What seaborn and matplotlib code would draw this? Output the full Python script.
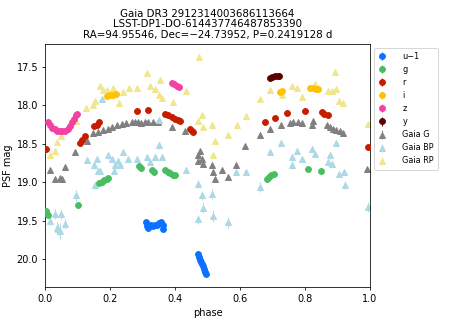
import matplotlib
matplotlib.use("Agg")
import matplotlib.pyplot as plt
import seaborn as sns

# LSST DP1 photometry (phase, mag); u is shifted by -1 mag
u_phase = [0.311, 0.314, 0.318, 0.326, 0.333, 0.340, 0.346, 0.352, 0.357, 0.362, 0.364,
           0.472, 0.474, 0.477, 0.479, 0.482, 0.485, 0.489, 0.493, 0.497]
u_mag = [19.52, 19.57, 19.59, 19.55, 19.57, 19.55, 19.56, 19.53, 19.52, 19.55, 19.60,
         19.93, 19.97, 20.01, 20.04, 20.06, 20.09, 20.12, 20.16, 20.19]

g_phase = [0.003, 0.010, 0.102, 0.167, 0.175, 0.183, 0.190, 0.195, 0.290, 0.295, 0.330,
           0.336, 0.370, 0.378, 0.386, 0.394, 0.400, 0.683, 0.690, 0.697, 0.704, 0.810, 0.848]
g_mag = [19.37, 19.42, 19.30, 19.01, 18.99, 18.97, 18.95, 18.94, 18.79, 18.81, 18.84,
         18.87, 18.84, 18.86, 18.88, 18.90, 18.91, 18.95, 18.93, 18.91, 18.89, 18.82, 18.85]

r_phase = [0.002, 0.108, 0.115, 0.122, 0.152, 0.160, 0.167, 0.282, 0.318, 0.370, 0.380,
           0.390, 0.400, 0.410, 0.415, 0.446, 0.452, 0.456, 0.677, 0.708, 0.744, 0.800,
           0.851, 0.860, 0.870, 0.995]
r_mag = [18.57, 18.49, 18.45, 18.40, 18.27, 18.25, 18.22, 18.07, 18.065, 18.11, 18.13,
         18.15, 18.17, 18.19, 18.20, 18.30, 18.33, 18.35, 18.22, 18.16, 18.10, 18.07,
         18.09, 18.11, 18.13, 18.54]

i_phase = [0.190, 0.200, 0.210, 0.218, 0.722, 0.728, 0.815, 0.825, 0.835, 0.840]
i_mag = [17.88, 17.87, 17.86, 17.85, 17.83, 17.81, 17.77, 17.77, 17.78, 17.79]

z_phase = [0.008, 0.015, 0.022, 0.030, 0.038, 0.046, 0.054, 0.062, 0.070, 0.077, 0.084,
           0.090, 0.096, 0.100, 0.390, 0.398, 0.406, 0.414]
z_mag = [18.21, 18.25, 18.29, 18.31, 18.33, 18.33, 18.33, 18.33, 18.31, 18.27, 18.22,
         18.17, 18.13, 18.11, 17.71, 17.72, 17.74, 17.76]

y_phase = [0.692, 0.700, 0.708, 0.716, 0.721]
y_mag = [17.64, 17.63, 17.62, 17.61, 17.61]

# Gaia epoch photometry
G_phase = [0.015, 0.031, 0.046, 0.054, 0.062, 0.092, 0.128, 0.149, 0.164, 0.179, 0.195,
           0.205, 0.221, 0.236, 0.251, 0.267, 0.277, 0.287, 0.297, 0.308, 0.318, 0.333,
           0.349, 0.390, 0.431, 0.472, 0.472, 0.477, 0.482, 0.487, 0.513, 0.518, 0.523,
           0.544, 0.564, 0.588, 0.615, 0.662, 0.692, 0.725, 0.754, 0.764, 0.779, 0.790,
           0.821, 0.824, 0.867, 0.877, 0.887, 0.897, 0.908, 0.918, 0.992]
G_mag = [18.84, 18.96, 18.94, 18.96, 18.80, 18.61, 18.46, 18.36, 18.35, 18.32, 18.31,
         18.28, 18.26, 18.24, 18.23, 18.22, 18.21, 18.22, 18.23, 18.22, 18.22, 18.22,
         18.22, 18.28, 18.33, 18.65, 18.72, 18.59, 18.70, 18.76, 18.77, 18.87, 18.96,
         18.84, 18.93, 18.78, 18.53, 18.38, 18.30, 18.25, 18.23, 18.22, 18.21, 18.23,
         18.26, 18.20, 18.25, 18.28, 18.30, 18.32, 18.33, 18.36, 18.83]

BP_phase = [0.015, 0.031, 0.036, 0.041, 0.046, 0.051, 0.062, 0.095, 0.128, 0.150, 0.154,
            0.159, 0.164, 0.171, 0.177, 0.195, 0.205, 0.212, 0.215, 0.226, 0.231, 0.241,
            0.256, 0.282, 0.313, 0.323, 0.338, 0.352, 0.352, 0.359, 0.434, 0.472, 0.472,
            0.482, 0.487, 0.513, 0.518, 0.564, 0.588, 0.618, 0.663, 0.692, 0.725, 0.759,
            0.759, 0.774, 0.790, 0.821, 0.831, 0.872, 0.877, 0.882, 0.897, 0.904, 0.920,
            0.923, 0.995]
BP_mag = [19.50, 19.41, 19.59, 19.61, 19.63, 19.41, 19.54, 19.17, 18.71, 18.78, 19.04,
          18.70, 18.85, 18.85, 17.92, 18.65, 18.70, 18.85, 18.78, 18.72, 18.77, 18.61,
          18.70, 18.70, 18.67, 18.74, 18.67, 18.52, 18.19, 18.67, 18.84, 19.02, 19.48,
          19.17, 19.33, 19.15, 19.44, 19.52, 18.87, 18.87, 19.06, 18.61, 18.49, 18.67,
          18.77, 18.59, 18.70, 18.57, 18.63, 18.74, 18.65, 18.76, 18.49, 18.89, 18.87,
          19.03, 19.32]
BP_err = [0.06, 0.06, 0.08, 0.07, 0.10, 0.06, 0.07, 0.07, 0.04, 0.04, 0.05,
          0.04, 0.04, 0.04, 0.03, 0.04, 0.04, 0.04, 0.04, 0.04, 0.04, 0.04,
          0.04, 0.04, 0.04, 0.04, 0.04, 0.04, 0.03, 0.04, 0.04, 0.05, 0.06,
          0.06, 0.07, 0.06, 0.08, 0.07, 0.04, 0.04, 0.06, 0.04, 0.04, 0.04,
          0.05, 0.04, 0.04, 0.04, 0.04, 0.05, 0.04, 0.04, 0.04, 0.04, 0.04,
          0.05, 0.06]

RP_phase = [0.015, 0.031, 0.036, 0.051, 0.097, 0.126, 0.149, 0.154, 0.169, 0.180, 0.190,
            0.210, 0.229, 0.241, 0.259, 0.284, 0.313, 0.323, 0.338, 0.352, 0.354, 0.359,
            0.393, 0.434, 0.472, 0.474, 0.482, 0.487, 0.513, 0.518, 0.523, 0.564, 0.590,
            0.618, 0.662, 0.692, 0.728, 0.759, 0.776, 0.790, 0.831, 0.872, 0.882, 0.892,
            0.895, 0.905, 0.918, 0.995]
RP_mag = [18.65, 18.59, 18.48, 18.40, 18.20, 18.03, 18.00, 17.94, 17.74, 17.80, 17.80,
          17.77, 17.97, 17.83, 17.77, 17.77, 17.58, 17.74, 17.78, 17.87, 17.67, 17.90,
          17.96, 17.81, 18.20, 17.37, 18.12, 18.28, 18.26, 18.65, 18.46, 18.39, 18.25,
          18.14, 17.91, 17.80, 17.86, 17.75, 17.77, 17.89, 17.72, 17.81, 17.81, 17.57,
          17.78, 17.94, 17.97, 18.24]

lsst_bands = [("u\u22121", u_phase, u_mag, "#0c71ff"),
              ("g", g_phase, g_mag, "#49be61"),
              ("r", r_phase, r_mag, "#c61c00"),
              ("i", i_phase, i_mag, "#ffc200"),
              ("z", z_phase, z_mag, "#f341a2"),
              ("y", y_phase, y_mag, "#5d0000")]
gaia_bands = [("Gaia G", G_phase, G_mag, [0.01] * len(G_mag), "gray"),
              ("Gaia BP", BP_phase, BP_mag, BP_err, "lightblue"),
              ("Gaia RP", RP_phase, RP_mag, [0.015] * len(RP_mag), "khaki")]

sns.set_style("ticks")
plt.rcParams["font.family"] = ["DejaVu Sans"]
plt.rcParams["axes.edgecolor"] = "black"
plt.rcParams["text.color"] = "black"
plt.rcParams["xtick.color"] = "black"
plt.rcParams["ytick.color"] = "black"
plt.rcParams["axes.labelcolor"] = "black"

fig = plt.figure(figsize=(449 / 70, 321 / 70), dpi=70)
ax = fig.add_axes([0.1, 0.106, 0.724, 0.757])

for name, ph, mag, col in lsst_bands:
    ax.errorbar(ph, mag, yerr=[0.01] * len(mag), fmt="o", color=col, ms=6,
                elinewidth=1, label=name, zorder=3)
for name, ph, mag, err, col in gaia_bands:
    ax.errorbar(ph, mag, yerr=err, fmt="^", color=col, ms=6.5,
                elinewidth=1, label=name, zorder=2)

ax.set_xlim(0, 1)
ax.set_ylim(20.36, 17.2)
ax.set_xlabel("phase")
ax.set_ylabel("PSF mag")
ax.set_title("Gaia DR3 2912314003686113664\nLSST-DP1-DO-614437746487853390\n"
             "RA=94.95546, Dec=\u221224.73952, P=0.2419128 d", fontsize=10.5,
             linespacing=1.1)
ax.legend(loc="upper left", bbox_to_anchor=(1.0, 1.0), fontsize="small",
          handlelength=1.0, handletextpad=2.0, borderpad=0.5)

fig.savefig("out.png", dpi=70)
